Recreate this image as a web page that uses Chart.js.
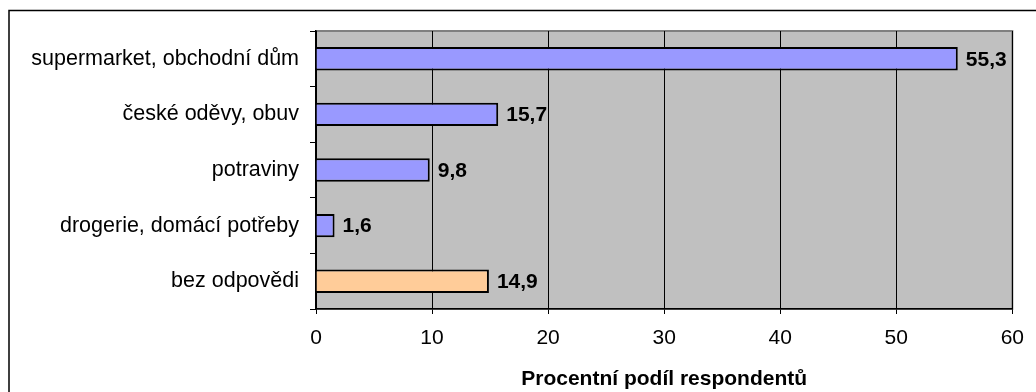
<!DOCTYPE html>
<html>
<head>
<meta charset="utf-8">
<script src="https://cdn.jsdelivr.net/npm/chart.js@4"></script>
<style>
  html, body { margin: 0; padding: 0; background: #ffffff; }
  #wrap { width: 1036px; height: 392px; }
</style>
</head>
<body>
<div id="wrap"><canvas id="graf" width="1036" height="392"></canvas></div>
<script>
// Kategorie a hodnoty (procenta respondentů)
const kategorie = [
    'supermarket, obchodní dům',
    'české oděvy, obuv',
    'potraviny',
    'drogerie, domácí potřeby',
    'bez odpovědi'
];
const hodnoty = [55.3, 15.7, 9.8, 1.6, 14.9];
const barvy = ['#9999FF', '#9999FF', '#9999FF', '#9999FF', '#FFCC99'];
const osaX = [0, 10, 20, 30, 40, 50, 60];

const PISMO = "'Liberation Sans', Arial, sans-serif";

// rámeček grafu a šedé pozadí plochy
const pozadiPlugin = {
    id: 'pozadi',
    beforeDraw(chart) {
        const ctx = chart.ctx;
        const a = chart.chartArea;
        ctx.save();
        ctx.fillStyle = '#ffffff';
        ctx.fillRect(0, 0, chart.width, chart.height);
        ctx.strokeStyle = '#000000';
        ctx.lineWidth = 1.5;
        ctx.strokeRect(9, 10.5, 1040, 400);
        ctx.fillStyle = '#C0C0C0';
        ctx.fillRect(a.left, a.top, a.right - a.left, a.bottom - a.top);
        ctx.strokeStyle = '#808080';
        ctx.lineWidth = 2;
        ctx.strokeRect(a.left, a.top, a.right - a.left, a.bottom - a.top);
        ctx.restore();
    }
};

// popisky hodnot vedle sloupců
const popiskyPlugin = {
    id: 'popisky',
    afterDatasetsDraw(chart) {
        const ctx = chart.ctx;
        const meta = chart.getDatasetMeta(0);
        ctx.save();
        ctx.font = 'bold 21px ' + PISMO;
        ctx.fillStyle = '#000000';
        ctx.textAlign = 'left';
        ctx.textBaseline = 'middle';
        meta.data.forEach((bar, i) => {
            const txt = hodnoty[i].toFixed(1).replace('.', ',');
            ctx.fillText(txt, bar.x + 8, bar.y + 1);
        });
        ctx.restore();
    }
};

new Chart(document.getElementById('graf'), {
    type: 'bar',
    data: {
        labels: kategorie,
        datasets: [{
            data: hodnoty,
            backgroundColor: barvy,
            borderColor: '#000000',
            borderWidth: 2,
            barPercentage: 0.42,
            categoryPercentage: 1.0
        }]
    },
    options: {
        indexAxis: 'y',
        responsive: false,
        animation: false,
        events: [],
        layout: { padding: { top: 31, right: 21, left: 0, bottom: 0 } },
        plugins: {
            legend: { display: false },
            tooltip: { enabled: false }
        },
        scales: {
            x: {
                min: 0,
                max: 60,
                afterBuildTicks(scale) {
                    scale.ticks = osaX.map(v => ({ value: v }));
                },
                afterFit(scale) { scale.height = 83; },
                grid: {
                    color: '#000000',
                    lineWidth: 1,
                    drawOnChartArea: true,
                    tickLength: 5
                },
                border: { color: '#000000', width: 1.5 },
                ticks: {
                    color: '#000000',
                    font: { family: PISMO, size: 21 },
                    padding: 12,
                    maxRotation: 0
                },
                title: {
                    display: true,
                    text: 'Procentní podíl respondentů',
                    color: '#000000',
                    font: { family: PISMO, size: 21, weight: 'bold' },
                    padding: { top: 0, bottom: 0 }
                }
            },
            y: {
                afterFit(scale) { scale.width = 316; },
                grid: {
                    offset: true,
                    color: '#000000',
                    drawOnChartArea: false,
                    tickLength: 6
                },
                border: { color: '#000000', width: 1.5 },
                ticks: {
                    color: '#000000',
                    font: { family: PISMO, size: 21.5 },
                    padding: 11
                }
            }
        }
    },
    plugins: [pozadiPlugin, popiskyPlugin]
});
</script>
</body>
</html>
